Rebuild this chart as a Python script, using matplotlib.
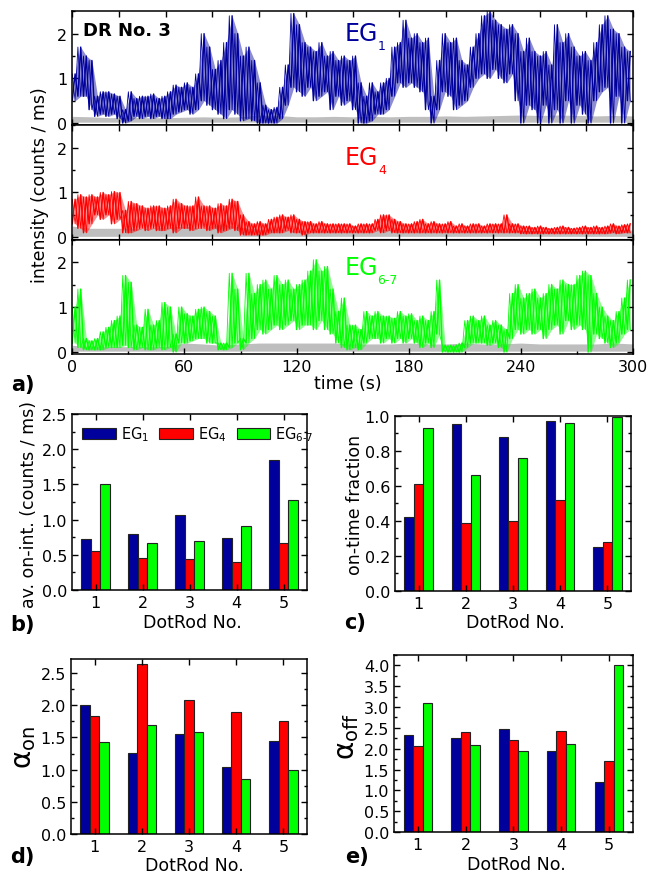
import numpy as np
import matplotlib
matplotlib.use('Agg')
import matplotlib.pyplot as plt
from matplotlib.ticker import MultipleLocator

plt.rcParams['font.family'] = ['DejaVu Sans']
plt.rcParams['mathtext.default'] = 'regular'

# ---------------- data: time traces (3 s bins, low / high envelope) ----------------
t_bin = np.arange(0, 300, 3)
eg1_hi = [1.1, 1.7, 1.5, 1.4, 0.6, 0.7, 0.7, 0.65, 0.6, 0.3,
          0.7, 0.55, 0.6, 0.6, 0.65, 0.55, 0.6, 0.7, 0.85, 0.8,
          0.9, 0.8, 1.1, 2.0, 1.7, 1.2, 1.4, 1.8, 2.4, 2.0,
          1.5, 1.7, 1.4, 0.9, 0.4, 0.3, 0.35, 0.8, 1.3, 2.45,
          2.2, 1.8, 1.7, 1.6, 1.8, 1.5, 1.6, 1.4, 1.5, 1.4,
          1.5, 0.9, 0.6, 0.9, 0.7, 0.9, 1.0, 1.7, 1.8, 2.3,
          1.9, 2.0, 1.8, 1.9, 0.6, 1.4, 2.0, 1.8, 1.9, 1.4,
          1.3, 1.7, 2.0, 2.4, 2.5, 2.3, 2.2, 2.1, 2.2, 2.0,
          1.6, 1.9, 1.6, 1.5, 1.6, 1.3, 2.2, 1.8, 2.0, 1.7,
          1.5, 1.6, 1.4, 1.8, 2.2, 2.4, 2.1, 2.0, 1.7, 1.6]
eg1_lo = [0.5, 0.6, 0.6, 0.3, 0.15, 0.2, 0.15, 0.2, 0.1, 0.0,
          0.05, 0.15, 0.1, 0.15, 0.1, 0.15, 0.1, 0.1, 0.2, 0.25,
          0.3, 0.2, 0.3, 0.5, 0.4, 0.3, 0.2, 0.1, 0.3, 0.2,
          0.05, 0.1, 0.05, 0.0, 0.0, 0.0, 0.0, 0.1, 0.4, 0.8,
          0.7, 0.6, 0.8, 0.5, 0.6, 0.7, 0.3, 0.6, 0.4, 0.5,
          0.3, 0.0, 0.0, 0.05, 0.2, 0.2, 0.3, 0.6, 0.9, 0.8,
          0.9, 0.8, 0.7, 0.3, 0.0, 0.3, 0.7, 0.6, 0.3, 0.4,
          0.5, 0.8, 1.0, 1.1, 1.0, 1.2, 1.0, 0.9, 1.1, 0.5,
          0.0, 0.4, 0.3, 0.0, 0.4, 0.0, 0.3, 0.0, 0.5, 0.0,
          0.4, 0.2, 0.0, 0.5, 0.7, 0.8, 0.0, 0.6, 0.0, 0.5]
eg4_hi = [0.85, 0.95, 0.9, 0.95, 0.9, 1.0, 0.95, 1.02, 1.0, 0.6,
          0.8, 0.75, 0.7, 0.65, 0.7, 0.7, 0.65, 0.7, 0.85, 0.75,
          0.7, 0.7, 0.9, 0.7, 0.7, 0.65, 0.75, 0.7, 0.85, 0.8,
          0.5, 0.35, 0.3, 0.35, 0.3, 0.4, 0.45, 0.5, 0.45, 0.5,
          0.4, 0.35, 0.35, 0.3, 0.35, 0.3, 0.3, 0.3, 0.3, 0.3,
          0.25, 0.3, 0.3, 0.3, 0.4, 0.5, 0.5, 0.4, 0.35, 0.3,
          0.3, 0.35, 0.4, 0.3, 0.35, 0.3, 0.3, 0.35, 0.25, 0.3,
          0.25, 0.3, 0.3, 0.25, 0.3, 0.3, 0.3, 0.5, 0.3, 0.3,
          0.25, 0.25, 0.22, 0.25, 0.22, 0.2, 0.22, 0.25, 0.22, 0.2,
          0.22, 0.25, 0.22, 0.25, 0.22, 0.25, 0.3, 0.25, 0.28, 0.3]
eg4_lo = [0.3, 0.2, 0.1, 0.3, 0.5, 0.4, 0.5, 0.3, 0.4, 0.1,
          0.1, 0.15, 0.2, 0.15, 0.2, 0.15, 0.15, 0.2, 0.1, 0.2,
          0.2, 0.15, 0.2, 0.2, 0.15, 0.2, 0.1, 0.15, 0.2, 0.15,
          0.05, 0.05, 0.05, 0.05, 0.05, 0.1, 0.1, 0.1, 0.15, 0.1,
          0.1, 0.05, 0.1, 0.1, 0.1, 0.1, 0.1, 0.1, 0.1, 0.1,
          0.1, 0.1, 0.1, 0.1, 0.15, 0.1, 0.15, 0.1, 0.1, 0.1,
          0.1, 0.1, 0.1, 0.1, 0.1, 0.1, 0.1, 0.1, 0.1, 0.1,
          0.1, 0.1, 0.1, 0.1, 0.1, 0.1, 0.1, 0.1, 0.1, 0.1,
          0.08, 0.08, 0.08, 0.08, 0.08, 0.08, 0.08, 0.08, 0.08, 0.08,
          0.08, 0.08, 0.08, 0.08, 0.08, 0.08, 0.1, 0.08, 0.1, 0.1]
eg67_hi = [1.0, 1.4, 0.3, 0.25, 0.3, 0.45, 0.55, 0.7, 0.8, 1.7,
           1.55, 0.6, 0.55, 0.95, 0.6, 0.7, 1.1, 1.0, 0.4, 1.0,
           0.85, 0.8, 0.95, 1.0, 0.9, 0.8, 0.2, 0.2, 1.75, 1.4,
           0.3, 1.75, 1.3, 1.5, 1.6, 1.4, 1.7, 1.5, 1.6, 1.4,
           1.5, 1.6, 1.8, 2.05, 1.8, 1.9, 1.4, 0.9, 1.2, 0.6,
           0.6, 0.5, 0.9, 0.8, 0.9, 0.8, 0.8, 0.75, 0.9, 0.8,
           0.85, 0.7, 0.8, 0.7, 0.9, 1.6, 0.15, 0.15, 0.15, 0.2,
           0.7, 0.8, 0.7, 0.8, 0.6, 0.7, 0.6, 0.5, 1.3, 1.5,
           1.2, 1.3, 1.4, 1.2, 1.3, 1.5, 1.4, 1.6, 1.5, 1.5,
           1.7, 1.8, 1.7, 1.3, 1.0, 0.8, 0.7, 0.9, 1.2, 1.6]
eg67_lo = [0.2, 0.1, 0.05, 0.05, 0.05, 0.05, 0.1, 0.1, 0.1, 0.15,
           0.1, 0.05, 0.1, 0.05, 0.05, 0.1, 0.05, 0.1, 0.0, 0.2,
           0.2, 0.25, 0.3, 0.3, 0.2, 0.2, 0.05, 0.05, 0.1, 0.2,
           0.05, 0.2, 0.3, 0.5, 0.4, 0.5, 0.6, 0.5, 0.6, 0.7,
           0.5, 0.6, 0.6, 0.5, 0.7, 0.5, 0.4, 0.2, 0.1, 0.05,
           0.1, 0.05, 0.2, 0.3, 0.3, 0.2, 0.3, 0.2, 0.3, 0.2,
           0.3, 0.2, 0.1, 0.2, 0.1, 0.4, 0.0, 0.0, 0.0, 0.0,
           0.1, 0.2, 0.2, 0.2, 0.15, 0.2, 0.1, 0.0, 0.3, 0.5,
           0.4, 0.5, 0.4, 0.5, 0.3, 0.5, 0.6, 0.4, 0.7, 0.5,
           0.6, 0.5, 0.0, 0.4, 0.3, 0.2, 0.1, 0.2, 0.4, 0.5]

# background (grey) traces, 10 s bins
t_bg = np.arange(0, 301, 10)
bg1_hi = [0.15, 0.14, 0.12, 0.13, 0.12, 0.12, 0.13, 0.14, 0.13, 0.14, 0.18,
          0.17, 0.14, 0.14, 0.15, 0.14, 0.15, 0.14, 0.15, 0.15, 0.16,
          0.15, 0.16, 0.17, 0.18, 0.17, 0.18, 0.17, 0.16, 0.17, 0.16]
bg2_hi = [0.25, 0.2, 0.2, 0.2, 0.2, 0.22, 0.25, 0.2, 0.3, 0.22, 0.18,
          0.18, 0.15, 0.15, 0.15, 0.15, 0.15, 0.18, 0.15, 0.15, 0.15,
          0.15, 0.15, 0.15, 0.15, 0.15, 0.15, 0.15, 0.15, 0.18, 0.16]
bg3_hi = [0.15, 0.12, 0.12, 0.12, 0.12, 0.12, 0.2, 0.18, 0.15, 0.18, 0.2,
          0.2, 0.2, 0.2, 0.2, 0.18, 0.18, 0.18, 0.2, 0.18, 0.18,
          0.2, 0.18, 0.18, 0.2, 0.18, 0.18, 0.18, 0.18, 0.2, 0.18]
bg_lo = [0.02] * 31

# ---------------- data: bar charts ----------------
dotrods = [1, 2, 3, 4, 5]
series = ['EG$_1$', 'EG$_4$', 'EG$_{6\\text{-}7}$']
on_int = {'EG1': [0.73, 0.80, 1.07, 0.74, 1.84],
          'EG4': [0.55, 0.45, 0.44, 0.40, 0.67],
          'EG67': [1.51, 0.67, 0.70, 0.91, 1.28]}
on_frac = {'EG1': [0.42, 0.95, 0.88, 0.97, 0.25],
           'EG4': [0.61, 0.39, 0.40, 0.52, 0.28],
           'EG67': [0.93, 0.66, 0.76, 0.96, 0.99]}
alpha_on = {'EG1': [2.01, 1.26, 1.55, 1.04, 1.45],
            'EG4': [1.83, 2.65, 2.09, 1.90, 1.75],
            'EG67': [1.43, 1.69, 1.58, 0.86, 1.00]}
alpha_off = {'EG1': [2.34, 2.25, 2.48, 1.95, 1.21],
             'EG4': [2.07, 2.39, 2.22, 2.42, 1.71],
             'EG67': [3.10, 2.08, 1.95, 2.12, 4.01]}

BLUE = '#00009C'
RED = '#FF0000'
GREEN = '#00FF00'
GREY = '#BEBEBE'
TICK_FS = 11.5
LAB_FS = 12.5

W, H = 651, 879
fig = plt.figure(figsize=(W / 100, H / 100), dpi=100)


def rect(l, t, r, b):
    return [l / W, 1 - b / H, (r - l) / W, (b - t) / H]


def ftext(x, y, s, **kw):
    return fig.text(x / W, 1 - y / H, s, **kw)


def style(ax):
    ax.tick_params(direction='in', which='both', top=True, right=True,
                   labelsize=TICK_FS, width=1)
    ax.tick_params(which='major', length=4)
    ax.tick_params(which='minor', length=2)
    for s in ax.spines.values():
        s.set_linewidth(1.1)


# ---------------- trace panels ----------------
traces = [(eg1_lo, eg1_hi, bg1_hi, BLUE), (eg4_lo, eg4_hi, bg2_hi, RED),
          (eg67_lo, eg67_hi, bg3_hi, GREEN)]
rects = [rect(72.3, 12.3, 633, 126.3), rect(72.3, 126.3, 633, 240.5),
         rect(72.3, 240.5, 633, 355.3)]
taxes = []
for i, ((lo, hi, bgh, col), r) in enumerate(zip(traces, rects)):
    ax = fig.add_axes(r)
    ax.fill_between(t_bg, bg_lo, bgh, color=GREY, lw=0)
    tc = t_bin + 1.5
    ax.fill_between(tc, lo, hi, color=col, lw=0, alpha=0.45)
    x = np.column_stack([t_bin, t_bin + 1.5]).ravel()
    y = np.column_stack([lo, hi]).ravel()
    ax.plot(x, y, color=col, lw=1.0)
    x2 = np.column_stack([t_bin, t_bin + 1.5]).ravel()
    y2 = np.column_stack([hi, lo]).ravel()
    ax.plot(x2, y2, color=col, lw=0.6)
    ax.set_xlim(0, 300)
    ax.set_ylim(-0.05, 2.5)
    ax.yaxis.set_major_locator(MultipleLocator(1))
    ax.yaxis.set_minor_locator(MultipleLocator(0.5))
    style(ax)
    if i < 2:
        ax.xaxis.set_major_locator(MultipleLocator(25))
        ax.tick_params(labelbottom=False)
    else:
        ax.xaxis.set_major_locator(MultipleLocator(60))
        ax.xaxis.set_minor_locator(MultipleLocator(30))
        ax.tick_params(top=False, which='both')
        sec = ax.secondary_xaxis('top')
        sec.xaxis.set_major_locator(MultipleLocator(25))
        sec.tick_params(direction='in', length=4, labeltop=False)
    taxes.append(ax)

ftext(83, 31, 'DR No. 3', fontsize=13, fontweight='bold', va='center', ha='left')
ftext(345, 34, 'EG', fontsize=17, color=BLUE, va='center', ha='left')
ftext(378, 46, '1', fontsize=9, color=BLUE, va='center', ha='left')
ftext(345, 158, 'EG', fontsize=17, color=RED, va='center', ha='left')
ftext(378, 170, '4', fontsize=9, color=RED, va='center', ha='left')
ftext(345, 268, 'EG', fontsize=17, color=GREEN, va='center', ha='left')
ftext(377, 281, '6-7', fontsize=9, color=GREEN, va='center', ha='left')
ftext(40, 185, 'intensity (counts / ms)', fontsize=LAB_FS, rotation=90,
      va='center', ha='center')
ftext(348, 384, 'time (s)', fontsize=LAB_FS, va='center', ha='center')

# ---------------- bar panels ----------------
keys = ['EG1', 'EG4', 'EG67']
cols = [BLUE, RED, GREEN]
bw = 0.2
bar_specs = [
    (on_int, rect(72, 415, 307, 591), 2.5, 0.5, 0.25, '%.1f'),
    (on_frac, rect(395, 416.7, 631, 592), 1.0, 0.2, 0.1, '%.1f'),
    (alpha_on, rect(71, 660, 307, 835), 2.72, 0.5, 0.25, '%.1f'),
    (alpha_off, rect(394, 656, 632.7, 833), 4.25, 0.5, 0.25, '%.1f'),
]
baxes = []
xpos = np.array(dotrods)
for data, r, ymax, maj, mnr, fmt in bar_specs:
    ax = fig.add_axes(r)
    for j, (k, c) in enumerate(zip(keys, cols)):
        ax.bar(xpos + (j - 1) * bw, data[k], width=bw, color=c,
               edgecolor='#222222', linewidth=0.8, label=series[j])
    ax.set_xlim(0.5, 5.5)
    ax.set_ylim(0, ymax)
    ax.set_xticks(dotrods)
    ax.yaxis.set_major_locator(MultipleLocator(maj))
    ax.yaxis.set_minor_locator(MultipleLocator(mnr))
    ax.yaxis.set_major_formatter(matplotlib.ticker.FormatStrFormatter(fmt))
    style(ax)
    ax.tick_params(axis='x', which='minor', top=False, bottom=False)
    baxes.append(ax)

baxes[0].legend(ncol=3, loc='upper left', frameon=False, handlelength=2.3,
                handleheight=0.8, handletextpad=0.35, columnspacing=0.7,
                fontsize=10.5, borderaxespad=0.3)

ftext(29, 504, 'av. on-int. (counts / ms)', fontsize=LAB_FS, rotation=90,
      va='center', ha='center')
ftext(355, 505, 'on-time fraction', fontsize=LAB_FS, rotation=90,
      va='center', ha='center')
ftext(24, 747, r'$\alpha_{on}$', fontsize=20, rotation=90, va='center', ha='center')
ftext(347, 737, r'$\alpha_{off}$', fontsize=20, rotation=90, va='center', ha='center')
for (x, y) in [(192, 623), (515, 623), (194, 866), (516, 865)]:
    ftext(x, y, 'DotRod No.', fontsize=LAB_FS, va='center', ha='center')

for (x, y, s) in [(23, 385, 'a)'), (22, 625, 'b)'), (355, 623, 'c)'),
                  (22, 857, 'd)'), (357, 857, 'e)')]:
    ftext(x, y, s, fontsize=15, fontweight='bold', va='center', ha='center')

fig.savefig('out.png', dpi=100)
